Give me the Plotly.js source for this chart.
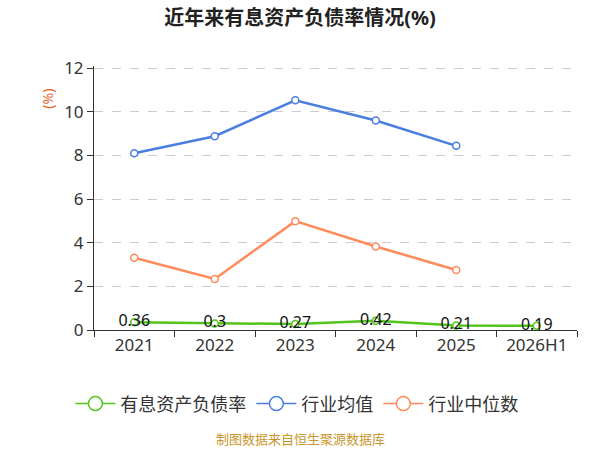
<!DOCTYPE html>
<html>
<head>
<meta charset="utf-8">
<script src="https://cdn.plot.ly/plotly-3.0.1.min.js"></script>
<style>
  body { margin: 0; }
  #chart { width: 600px; height: 450px; }
</style>
</head>
<body>
<div id="chart"></div>
<script>
// 近年来有息资产负债率情况
var years = ["2021", "2022", "2023", "2024", "2025", "2026H1"];
var debtRatio = [0.36, 0.3, 0.27, 0.42, 0.21, 0.19];
var industryMean = [8.1, 8.88, 10.53, 9.6, 8.44, null];
var industryMedian = [3.31, 2.34, 4.99, 3.83, 2.75, null];

var fontFamily = "Noto Sans, Noto Sans CJK SC, sans-serif";

function lineTrace(name, values, color, withText) {
  var trace = {
    name: name,
    legendgroup: name,
    showlegend: false,
    type: "scatter",
    mode: withText ? "lines+markers+text" : "lines+markers",
    x: years,
    y: values,
    line: {color: color, width: 2.5},
    marker: {color: "#fff", size: 7, line: {color: color, width: 1.5}},
    cliponaxis: false,
  };
  if (withText) {
    trace.text = values.map(function(v) { return String(v); });
    trace.textposition = "middle center";
    trace.textfont = {size: 16, color: "#111", family: fontFamily};
  }
  return trace;
}

// legend-only entry with the bigger circle the reference shows
function legendTrace(name, color) {
  return {
    name: name,
    legendgroup: name,
    type: "scatter",
    mode: "lines+markers",
    x: [null], y: [null],
    line: {color: color, width: 1.5},
    marker: {color: "#fff", size: 14, line: {color: color, width: 1.5}},
  };
}

var colors = ["#52c41a", "#4a7ee0", "#ff8a5b"];
var names = ["有息资产负债率", "行业均值", "行业中位数"];

var traces = [
  lineTrace(names[0], debtRatio, colors[0], true),
  lineTrace(names[1], industryMean, colors[1], false),
  lineTrace(names[2], industryMedian, colors[2], false),
  legendTrace(names[0], colors[0]),
  legendTrace(names[1], colors[1]),
  legendTrace(names[2], colors[2]),
];

var layout = {
  width: 600,
  height: 450,
  margin: {l: 94, r: 23, t: 66, b: 120},
  paper_bgcolor: "#fff",
  plot_bgcolor: "#fff",
  font: {family: fontFamily, color: "#333"},
  title: {
    text: "<b>近年来有息资产负债率情况(%)</b>",
    font: {size: 20, color: "#222"},
    x: 0.5, xanchor: "center", y: 0.96, yanchor: "middle",
  },
  xaxis: {
    type: "category",
    range: [-0.5, 5.5],
    showline: true, linecolor: "#333", linewidth: 1,
    ticks: "outside", tickson: "boundaries", ticklen: 6, tickcolor: "#333",
    tickfont: {size: 17, color: "#333"},
    showgrid: false, zeroline: false,
  },
  yaxis: {
    range: [0, 12.1],
    tickvals: [0, 2, 4, 6, 8, 10, 12],
    showline: true, linecolor: "#333", linewidth: 1,
    ticks: "outside", ticklen: 6, tickcolor: "#333",
    tickfont: {size: 17, color: "#333"},
    showgrid: true, gridcolor: "#ccc", griddash: "dash", gridwidth: 1,
    zeroline: false,
  },
  showlegend: true,
  legend: {
    orientation: "h",
    x: 0.42, xanchor: "center",
    y: -0.28, yanchor: "middle",
    font: {size: 18, color: "#333"},
    itemwidth: 40,
  },
  annotations: [
    {
      text: "(%)", xref: "paper", yref: "paper",
      x: -0.12, y: 0.92, textangle: -90, showarrow: false,
      font: {size: 14, color: "#e8601c"},
    },
    {
      text: "制图数据来自恒生聚源数据库", xref: "paper", yref: "paper",
      x: 0.427, y: -0.455, showarrow: false,
      font: {size: 13, color: "#c9962b"},
    },
  ],
};

Plotly.newPlot("chart", traces, layout, {displayModeBar: false});
</script>
</body>
</html>
